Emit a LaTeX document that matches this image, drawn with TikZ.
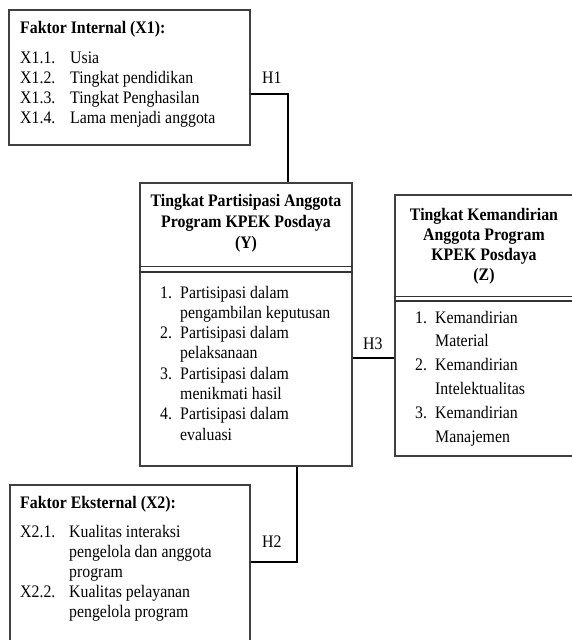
\documentclass[tikz,border=0pt]{standalone}
\usepackage{fontspec}
\setmainfont[FakeStretch=0.9]{Liberation Serif}
\tikzset{
  box/.style={draw=black!75, line width=1.3pt, rectangle, inner sep=0pt},
  conn/.style={draw=black, line width=2pt},
  txt/.style={inner sep=0pt, anchor=base west, font=\fontsize{17.6}{20}\selectfont},
  btxt/.style={txt, font=\fontsize{17.6}{20}\selectfont\bfseries},
  ctxt/.style={inner sep=0pt, anchor=base, font=\fontsize{17.6}{20}\selectfont\bfseries},
  sep/.style={draw=black!80}
}
\begin{document}
\begin{tikzpicture}[x=1pt,y=-1pt]
\useasboundingbox (0,0) rectangle (572,640);
% boxes
\node[box, minimum width=241pt, minimum height=135pt] (x1) at (129.5,77.5) {};
\node[box, minimum width=212pt, minimum height=283pt] (ybox) at (246,324.5) {};
\node[box, minimum width=179pt, minimum height=261pt] (zbox) at (484.5,325.5) {};
\node[box, minimum width=240pt, minimum height=165pt] (x2) at (130,567.5) {};
% separators
\coordinate (ys1) at (0,266.7);
\coordinate (ys2) at (0,271.7);
\draw[sep, line width=0.8pt] (ybox.west |- ys1) -- (ybox.east |- ys1);
\draw[sep, line width=1.8pt] (ybox.west |- ys2) -- (ybox.east |- ys2);
\coordinate (zs1) at (0,296.7);
\coordinate (zs2) at (0,300.7);
\draw[sep, line width=0.8pt] (zbox.west |- zs1) -- (zbox.east |- zs1);
\draw[sep, line width=1.8pt] (zbox.west |- zs2) -- (zbox.east |- zs2);
% X1 text
\node[btxt] (x1t) at (20,33) {Faktor Internal (X1):};
\foreach \l/\t [count=\i] in {X1.1./Usia, X1.2./Tingkat pendidikan, X1.3./Tingkat Penghasilan, X1.4./Lama menjadi anggota}{
  \node[txt] (x1n\i) at (20,{43+20*\i}) {\l};
  \node[txt] (x1i\i) at (70,{43+20*\i}) {\t};
}
% Y text
\node[ctxt] (yt1) at (246,206) {Tingkat Partisipasi Anggota};
\node[ctxt] (yt2) at (246,227) {Program KPEK Posdaya};
\node[ctxt] (yt3) at (246,248) {(Y)};
\foreach \t [count=\i] in {Partisipasi dalam, pengambilan keputusan, Partisipasi dalam, pelaksanaan, Partisipasi dalam, menikmati hasil, Partisipasi dalam, evaluasi}{
  \node[txt] (yi\i) at (180,{298+20.3*(\i-1)}) {\t};
}
\foreach \i in {1,2,3,4}{
  \node[txt] (yn\i) at (160,{298+40.6*(\i-1)}) {\i.};
}
% Z text
\node[ctxt] (zt1) at (484,220) {Tingkat Kemandirian};
\node[ctxt] (zt2) at (484,240) {Anggota Program};
\node[ctxt] (zt3) at (484,260) {KPEK Posdaya};
\node[ctxt] (zt4) at (484,280) {(Z)};
\foreach \t [count=\i] in {Kemandirian, Material, Kemandirian, Intelektualitas, Kemandirian, Manajemen}{
  \node[txt] (zi\i) at (435,{323+23.8*(\i-1)}) {\t};
}
\foreach \i in {1,2,3}{
  \node[txt] (zn\i) at (415,{323+47.6*(\i-1)}) {\i.};
}
% X2 text
\node[btxt] (x2t) at (20,508) {Faktor Eksternal (X2):};
\node[txt] (x2n1) at (20,537) {X2.1.};
\node[txt] (x2n2) at (20,597) {X2.2.};
\foreach \t [count=\i] in {Kualitas interaksi, pengelola dan anggota, program, Kualitas pelayanan, pengelola program}{
  \node[txt] (x2i\i) at (69,{517+20*\i}) {\t};
}
% connectors
\coordinate (h1y) at (0,94);
\coordinate (h1x) at (288,0);
\draw[conn] (x1.east |- h1y) -| (ybox.north -| h1x);
\coordinate (h3y) at (0,358);
\draw[conn] (ybox.east |- h3y) -- (zbox.west |- h3y);
\coordinate (h2x) at (297,0);
\coordinate (h2y) at (0,562);
\draw[conn] (ybox.south -| h2x) |- (x2.east |- h2y);
% labels
\node[txt] (h1) at (262,83) {H1};
\node[txt] (h3) at (363,349) {H3};
\node[txt] (h2) at (262,547) {H2};
\end{tikzpicture}
\end{document}
